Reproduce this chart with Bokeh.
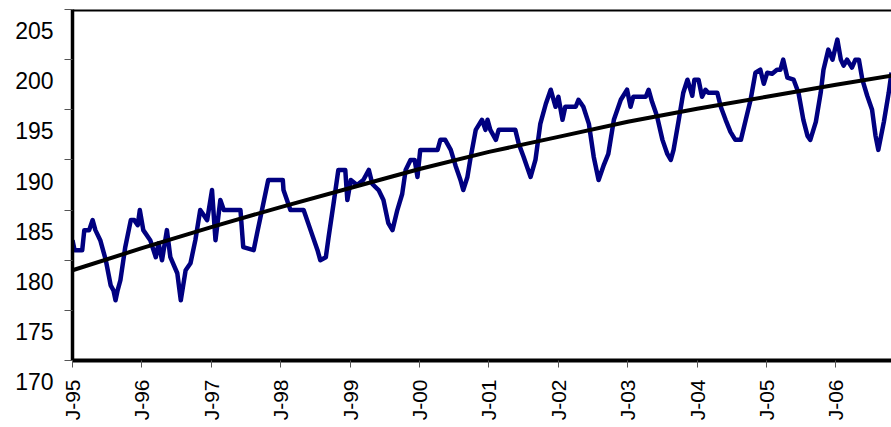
import math
from bokeh.plotting import figure
from bokeh.models import FixedTicker, Span, Range1d
from bokeh.embed import file_html
from bokeh.resources import INLINE

# ---- data ----
t = [1995.00, 1995.03, 1995.14, 1995.17, 1995.24, 1995.29, 1995.33, 1995.40, 1995.48, 1995.55,
     1995.59, 1995.62, 1995.65, 1995.69, 1995.76, 1995.84, 1995.89, 1995.94, 1995.97, 1996.02,
     1996.12, 1996.20, 1996.24, 1996.29, 1996.36, 1996.41, 1996.51, 1996.56, 1996.63, 1996.70,
     1996.77, 1996.84, 1996.94, 1997.01, 1997.06, 1997.13, 1997.18, 1997.42, 1997.46, 1997.61,
     1997.66, 1997.73, 1997.82, 1998.03, 1998.04, 1998.14, 1998.33, 1998.43, 1998.53, 1998.57,
     1998.65, 1998.69, 1998.76, 1998.83, 1998.93, 1998.96, 1999.01, 1999.10, 1999.19, 1999.27,
     1999.32, 1999.41, 1999.48, 1999.55, 1999.61, 1999.68, 1999.75, 1999.80, 1999.87, 1999.93,
     1999.97, 2000.01, 2000.26, 2000.30, 2000.37, 2000.45, 2000.52, 2000.59, 2000.63, 2000.69,
     2000.73, 2000.81, 2000.90, 2000.95, 2000.98, 2001.02, 2001.10, 2001.14, 2001.38, 2001.43,
     2001.50, 2001.60, 2001.67, 2001.74, 2001.82, 2001.89, 2001.96, 2002.00, 2002.06, 2002.10,
     2002.25, 2002.29, 2002.36, 2002.44, 2002.51, 2002.58, 2002.65, 2002.72, 2002.80, 2002.90,
     2002.99, 2003.04, 2003.08, 2003.26, 2003.30, 2003.35, 2003.42, 2003.50, 2003.57, 2003.62,
     2003.66, 2003.73, 2003.80, 2003.86, 2003.93, 2003.96, 2004.02, 2004.07, 2004.12, 2004.16,
     2004.29, 2004.34, 2004.41, 2004.48, 2004.55, 2004.63, 2004.70, 2004.77, 2004.84, 2004.91,
     2004.96, 2005.01, 2005.08, 2005.15, 2005.20, 2005.24, 2005.30, 2005.39, 2005.46, 2005.53,
     2005.59, 2005.63, 2005.71, 2005.78, 2005.82, 2005.89, 2005.95, 2006.02, 2006.07, 2006.11,
     2006.16, 2006.23, 2006.28, 2006.33, 2006.38, 2006.45, 2006.52, 2006.57, 2006.61, 2006.69,
     2006.76, 2006.80]
value = [182.0, 181.0, 181.0, 183.0, 183.0, 184.0, 183.0, 182.0, 180.0, 177.5,
         177.0, 176.0, 177.0, 178.0, 181.3, 184.0, 184.0, 183.5, 185.0, 183.0,
         182.0, 180.3, 181.7, 180.0, 183.0, 180.3, 178.7, 176.0, 179.0, 179.7,
         182.0, 185.0, 184.0, 187.0, 182.0, 186.0, 185.0, 185.0, 181.3, 181.0,
         182.7, 185.0, 188.0, 188.0, 187.0, 185.0, 185.0, 183.0, 181.0, 180.0,
         180.3, 182.3, 185.6, 189.0, 189.0, 186.0, 188.0, 187.5, 188.0, 189.0,
         187.6, 187.0, 186.0, 183.7, 183.0, 185.0, 186.6, 189.0, 190.0, 190.0,
         188.3, 191.0, 191.0, 192.0, 192.0, 191.0, 189.4, 188.0, 187.0, 188.3,
         190.0, 193.0, 194.0, 193.0, 194.0, 193.0, 192.0, 193.0, 193.0, 191.6,
         190.3, 188.3, 190.0, 193.6, 195.6, 197.0, 195.3, 196.3, 194.0, 195.3,
         195.3, 196.0, 195.3, 193.6, 190.3, 188.0, 189.4, 190.6, 194.0, 196.0,
         197.0, 195.3, 196.3, 196.3, 197.0, 195.8, 194.4, 192.0, 190.6, 190.0,
         191.0, 193.8, 196.7, 198.0, 196.4, 198.0, 198.0, 196.3, 197.0, 196.7,
         196.7, 195.3, 194.0, 192.8, 192.0, 192.0, 194.0, 196.0, 198.7, 199.0,
         197.6, 198.7, 198.6, 199.0, 199.0, 200.0, 198.2, 198.0, 196.7, 194.0,
         192.4, 192.0, 193.8, 196.7, 199.0, 201.0, 200.0, 202.0, 200.0, 199.4,
         200.0, 199.2, 200.0, 200.0, 198.0, 196.4, 195.0, 192.4, 191.0, 193.8,
         196.7, 198.7]

trend_t = [1995.0, 1996.0, 1997.0, 1998.0, 1999.0, 2000.0, 2001.0, 2002.0, 2003.0,
           2004.0, 2005.0, 2006.0, 2006.8]
trend_v = [179.0, 181.2, 183.3, 185.3, 187.2, 189.1, 190.8, 192.3, 193.8,
           195.1, 196.3, 197.5, 198.4]

x_ticks = [1995, 1996, 1997, 1998, 1999, 2000, 2001, 2002, 2003, 2004, 2005, 2006]
x_tick_labels = ["J-95", "J-96", "J-97", "J-98", "J-99", "J-00", "J-01", "J-02",
                 "J-03", "J-04", "J-05", "J-06"]
y_ticks = [170, 175, 180, 185, 190, 195, 200, 205]
y_tick_labels = ["170", "175", "180", "185", "190", "195", "200", "205"]

FONT = "Arial"
HIDDEN_TOP = 40  # extra canvas above the page, so the top tick label is not pushed down

p = figure(width=891, height=427 + HIDDEN_TOP, output_backend="svg", toolbar_location=None,
           x_range=Range1d(1995.0, 2006.80), y_range=Range1d(170, 205),
           min_border_left=72, min_border_right=0, min_border_top=9 + HIDDEN_TOP,
           min_border_bottom=67, styles={"margin-top": f"-{HIDDEN_TOP}px"})
p.outline_line_color = None
p.grid.visible = False
p.background_fill_color = "white"
p.border_fill_color = "white"

# blue series and black trend
p.line(t, value, line_color="#000080", line_width=4.5, line_join="round")
p.line(trend_t, trend_v, line_color="black", line_width=4)

# top border
p.add_layout(Span(location=205, dimension="width", line_color="black", line_width=4))

# x axis
xa = p.xaxis[0]
xa.ticker = FixedTicker(ticks=x_ticks)
xa.major_label_overrides = {k: v for k, v in zip(x_ticks, x_tick_labels)}
xa.major_label_orientation = math.pi / 2
xa.major_label_text_font = FONT
xa.major_label_text_font_size = "21px"
xa.major_label_text_color = "black"
xa.major_label_standoff = 12
xa.axis_line_color = "black"
xa.axis_line_width = 4
xa.major_tick_line_color = "#555555"
xa.major_tick_line_width = 1
xa.major_tick_out = 7
xa.major_tick_in = 0
xa.minor_tick_line_color = None

# y axis: labels sit a little below their tick marks, as in the reference
ya = p.yaxis[0]
ya.ticker = FixedTicker(ticks=y_ticks)
ya.major_label_overrides = {k: "\n" + v for k, v in zip(y_ticks, y_tick_labels)}
ya.major_label_text_font = FONT
ya.major_label_text_font_size = "23px"
ya.major_label_text_line_height = 1.67
ya.major_label_text_color = "black"
ya.major_label_standoff = 11
ya.axis_line_color = "black"
ya.axis_line_width = 3.5
ya.major_tick_line_color = "#555555"
ya.major_tick_line_width = 1
ya.major_tick_out = 8
ya.major_tick_in = 0
ya.minor_tick_line_color = None

open("out.html", "w").write(file_html(p, INLINE))
